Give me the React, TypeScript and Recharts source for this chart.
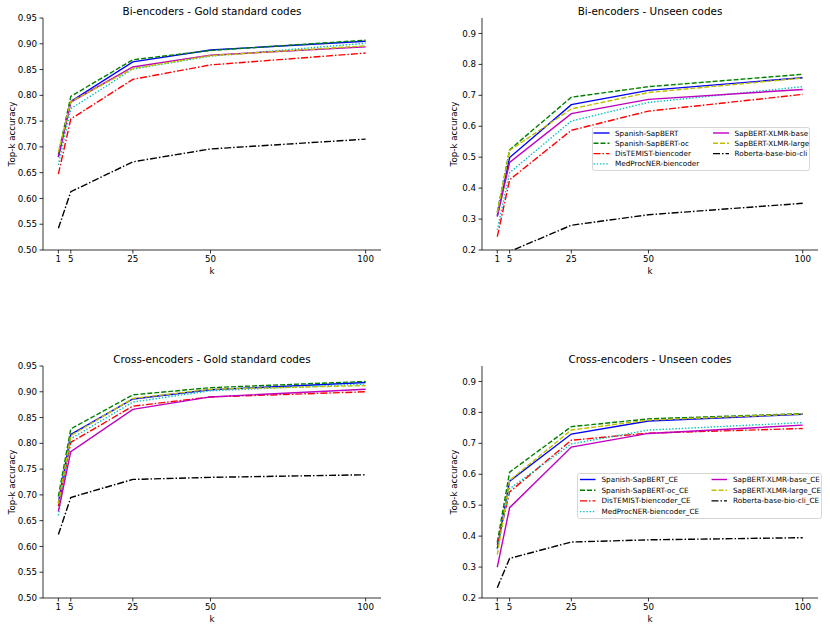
import React from 'react'
import { LineChart, Line, XAxis, YAxis, Label, Legend } from 'recharts'

// x positions (top-k)
const kValues = [1, 5, 25, 50, 100]
const xTicks = [1, 5, 25, 50, 100]
const yTicksGold = [0.5, 0.55, 0.6, 0.65, 0.7, 0.75, 0.8, 0.85, 0.9, 0.95]
const yTicksUnseen = [0.2, 0.3, 0.4, 0.5, 0.6, 0.7, 0.8, 0.9]

const modelNames = [
  'Spanish-SapBERT',
  'Spanish-SapBERT-oc',
  'DisTEMIST-biencoder',
  'MedProcNER-biencoder',
  'SapBERT-XLMR-base',
  'SapBERT-XLMR-large',
  'Roberta-base-bio-cli',
]
const modelNamesCE = [
  'Spanish-SapBERT_CE',
  'Spanish-SapBERT-oc_CE',
  'DisTEMIST-biencoder_CE',
  'MedProcNER-biencoder_CE',
  'SapBERT-XLMR-base_CE',
  'SapBERT-XLMR-large_CE',
  'Roberta-base-bio-cli_CE',
]

// Bi-encoders - Gold standard codes
const biGoldSpanish = [0.68, 0.788, 0.865, 0.888, 0.905]
const biGoldSpanishOc = [0.685, 0.798, 0.869, 0.887, 0.907]
const biGoldDistemist = [0.647, 0.754, 0.831, 0.859, 0.882]
const biGoldMedProcNER = [0.665, 0.774, 0.851, 0.876, 0.901]
const biGoldXlmrBase = [0.681, 0.787, 0.855, 0.878, 0.894]
const biGoldXlmrLarge = [0.69, 0.788, 0.852, 0.877, 0.896]
const biGoldRoberta = [0.542, 0.613, 0.671, 0.696, 0.715]

// Bi-encoders - Unseen codes
const biUnseenSpanish = [0.31, 0.499, 0.67, 0.716, 0.757]
const biUnseenSpanishOc = [0.322, 0.524, 0.694, 0.728, 0.768]
const biUnseenDistemist = [0.243, 0.427, 0.587, 0.649, 0.703]
const biUnseenMedProcNER = [0.265, 0.45, 0.617, 0.677, 0.728]
const biUnseenXlmrBase = [0.308, 0.483, 0.641, 0.687, 0.719]
const biUnseenXlmrLarge = [0.32, 0.522, 0.656, 0.709, 0.756]
const biUnseenRoberta = [0.1, 0.195, 0.28, 0.314, 0.351]

// Cross-encoders - Gold standard codes
const ceGoldSpanish = [0.685, 0.817, 0.886, 0.904, 0.918]
const ceGoldSpanishOc = [0.697, 0.828, 0.894, 0.908, 0.92]
const ceGoldDistemist = [0.678, 0.802, 0.872, 0.89, 0.9]
const ceGoldMedProcNER = [0.66, 0.809, 0.88, 0.902, 0.915]
const ceGoldXlmrBase = [0.668, 0.784, 0.866, 0.89, 0.905]
const ceGoldXlmrLarge = [0.683, 0.815, 0.887, 0.905, 0.912]
const ceGoldRoberta = [0.623, 0.695, 0.73, 0.734, 0.739]

// Cross-encoders - Unseen codes
const ceUnseenSpanish = [0.36, 0.578, 0.73, 0.772, 0.794]
const ceUnseenSpanishOc = [0.38, 0.607, 0.754, 0.779, 0.796]
const ceUnseenDistemist = [0.372, 0.543, 0.71, 0.733, 0.748]
const ceUnseenMedProcNER = [0.358, 0.553, 0.698, 0.743, 0.767]
const ceUnseenXlmrBase = [0.3, 0.492, 0.688, 0.732, 0.759]
const ceUnseenXlmrLarge = [0.34, 0.58, 0.743, 0.775, 0.795]
const ceUnseenRoberta = [0.233, 0.328, 0.381, 0.388, 0.395]

const FONT = "'DejaVu Sans', sans-serif"

// matplotlib-ish b, g--, r-., c:, m, y--, k-.
const lineStyles = [
  { color: '#0000ff', dash: undefined },
  { color: '#008000', dash: '5 2' },
  { color: '#ff0000', dash: '7 2 1.5 2' },
  { color: '#00bfbf', dash: '1.4 1.8' },
  { color: '#bf00bf', dash: undefined },
  { color: '#bfbf00', dash: '5 2' },
  { color: '#000000', dash: '7 2 1.5 2' },
]

const buildData = (series: number[][]) =>
  kValues.map((k, i) => {
    const row: { [key: string]: number } = { k }
    series.forEach((s, j) => {
      row['s' + j] = s[i]
    })
    return row
  })

// plot box inside every chart
const CH_H = 300
const PLOT_TOP = 18
const PLOT_LEFT = 43
const PLOT_BOTTOM = 250

interface LegendBox {
  left: number
  top: number
  width: number
  height: number
  row0: number
  rowH: number
  col1: number
  col2: number
  handle: number
  pad: number
}

const LegendContent = ({ names, box }: { names: string[]; box: LegendBox }) => (
  <svg width={box.width} height={box.height} style={{ display: 'block', overflow: 'visible' }}>
    <rect
      x={0.5}
      y={0.5}
      width={box.width - 1}
      height={box.height - 1}
      rx={2}
      fill="#ffffff"
      fillOpacity={0.8}
      stroke="#cccccc"
      strokeWidth={0.8}
    />
    {names.map((name, i) => {
      const col = i < 4 ? 0 : 1
      const row = i < 4 ? i : i - 4
      const x = col === 0 ? box.col1 : box.col2
      const y = box.row0 + row * box.rowH
      const st = lineStyles[i]
      return (
        <g key={name}>
          <line
            x1={x}
            x2={x + box.handle}
            y1={y}
            y2={y}
            stroke={st.color}
            strokeWidth={1.4}
            strokeDasharray={st.dash}
          />
          <text
            x={x + box.handle + box.pad}
            y={y}
            dominantBaseline="central"
            fontSize={7.25}
            fontFamily={FONT}
            fill="#000"
          >
            {name}
          </text>
        </g>
      )
    })}
  </svg>
)

interface PanelProps {
  left: number
  top: number
  width: number
  marginRight: number
  title: string
  series: number[][]
  names: string[]
  yTicks: number[]
  yDomain: [number, number]
  decimals: number
  yLabelX: number
  legend?: LegendBox
}

const Panel = ({
  left,
  top,
  width,
  marginRight,
  title,
  series,
  names,
  yTicks,
  yDomain,
  decimals,
  yLabelX,
  legend,
}: PanelProps) => {
  const data = buildData(series)
  const plotRight = width - marginRight
  const cx = (PLOT_LEFT + plotRight) / 2
  const cy = (PLOT_TOP + PLOT_BOTTOM) / 2
  const tickStyle = { fill: '#000', fontSize: 8.7, fontFamily: FONT }

  return (
    <div style={{ position: 'absolute', left, top, width, height: CH_H }}>
      <div
        style={{
          position: 'absolute',
          left: cx - 150,
          top: 4.5,
          width: 300,
          textAlign: 'center',
          fontFamily: FONT,
          fontSize: 10.4,
          lineHeight: '12px',
          color: '#000',
          whiteSpace: 'nowrap',
        }}
      >
        {title}
      </div>
      <LineChart
        width={width}
        height={CH_H}
        data={data}
        margin={{ top: PLOT_TOP, right: marginRight, bottom: 20, left: 0 }}
      >
        <XAxis
          dataKey="k"
          type="number"
          domain={[-3.95, 104.95]}
          ticks={xTicks}
          interval={0}
          allowDataOverflow
          height={30}
          tick={tickStyle}
          tickSize={3.5}
          tickMargin={2}
          axisLine={{ stroke: '#000', strokeWidth: 0.8 }}
          tickLine={{ stroke: '#000', strokeWidth: 0.8 }}
        >
          <Label
            content={() => (
              <text
                x={cx}
                y={270.5}
                textAnchor="middle"
                dominantBaseline="central"
                fontSize={8.7}
                fontFamily={FONT}
                fill="#000"
              >
                k
              </text>
            )}
          />
        </XAxis>
        <YAxis
          type="number"
          domain={yDomain}
          ticks={yTicks}
          interval={0}
          allowDataOverflow
          width={PLOT_LEFT}
          tick={tickStyle}
          tickSize={3.5}
          tickMargin={2.5}
          tickFormatter={(v: number) => v.toFixed(decimals)}
          axisLine={{ stroke: '#000', strokeWidth: 0.8 }}
          tickLine={{ stroke: '#000', strokeWidth: 0.8 }}
        >
          <Label
            content={() => (
              <text
                x={yLabelX}
                y={cy}
                transform={`rotate(-90 ${yLabelX} ${cy})`}
                textAnchor="middle"
                dominantBaseline="central"
                fontSize={8.7}
                fontFamily={FONT}
                fill="#000"
              >
                Top-k accuracy
              </text>
            )}
          />
        </YAxis>
        {series.map((_, j) => (
          <Line
            key={names[j]}
            type="linear"
            dataKey={'s' + j}
            name={names[j]}
            stroke={lineStyles[j].color}
            strokeDasharray={lineStyles[j].dash}
            strokeWidth={1.4}
            dot={false}
            activeDot={false}
            isAnimationActive={false}
          />
        ))}
        {legend && (
          <Legend
            layout="horizontal"
            verticalAlign="middle"
            align="center"
            wrapperStyle={{
              left: legend.left,
              top: legend.top,
              width: legend.width,
              height: legend.height,
            }}
            content={() => <LegendContent names={names} box={legend} />}
          />
        )}
      </LineChart>
    </div>
  )
}

const biGoldSeries = [
  biGoldSpanish,
  biGoldSpanishOc,
  biGoldDistemist,
  biGoldMedProcNER,
  biGoldXlmrBase,
  biGoldXlmrLarge,
  biGoldRoberta,
]
const biUnseenSeries = [
  biUnseenSpanish,
  biUnseenSpanishOc,
  biUnseenDistemist,
  biUnseenMedProcNER,
  biUnseenXlmrBase,
  biUnseenXlmrLarge,
  biUnseenRoberta,
]
const ceGoldSeries = [
  ceGoldSpanish,
  ceGoldSpanishOc,
  ceGoldDistemist,
  ceGoldMedProcNER,
  ceGoldXlmrBase,
  ceGoldXlmrLarge,
  ceGoldRoberta,
]
const ceUnseenSeries = [
  ceUnseenSpanish,
  ceUnseenSpanishOc,
  ceUnseenDistemist,
  ceUnseenMedProcNER,
  ceUnseenXlmrBase,
  ceUnseenXlmrLarge,
  ceUnseenRoberta,
]

const biLegend: LegendBox = {
  left: 153,
  top: 127,
  width: 218,
  height: 44,
  row0: 6,
  rowH: 10.3,
  col1: 1.5,
  col2: 121,
  handle: 16,
  pad: 5.5,
}
const ceLegend: LegendBox = {
  left: 138,
  top: 125,
  width: 245,
  height: 46,
  row0: 6.5,
  rowH: 10.7,
  col1: 3,
  col2: 134.5,
  handle: 15.5,
  pad: 6,
}

export default function App() {
  return (
    <div
      style={{
        position: 'absolute',
        left: 0,
        top: 0,
        width: 830,
        height: 630,
        background: '#fff',
        overflow: 'hidden',
      }}
    >
      <Panel
        left={0}
        top={0}
        width={415}
        marginRight={34}
        title="Bi-encoders - Gold standard codes"
        series={biGoldSeries}
        names={modelNames}
        yTicks={yTicksGold}
        yDomain={[0.5, 0.95]}
        decimals={2}
        yLabelX={11.5}
      />
      <Panel
        left={439}
        top={0}
        width={391}
        marginRight={12}
        title="Bi-encoders - Unseen codes"
        series={biUnseenSeries}
        names={modelNames}
        yTicks={yTicksUnseen}
        yDomain={[0.2, 0.95]}
        decimals={1}
        yLabelX={14.5}
        legend={biLegend}
      />
      <Panel
        left={0}
        top={348}
        width={415}
        marginRight={34}
        title="Cross-encoders - Gold standard codes"
        series={ceGoldSeries}
        names={modelNamesCE}
        yTicks={yTicksGold}
        yDomain={[0.5, 0.95]}
        decimals={2}
        yLabelX={11.5}
      />
      <Panel
        left={439}
        top={348}
        width={391}
        marginRight={12}
        title="Cross-encoders - Unseen codes"
        series={ceUnseenSeries}
        names={modelNamesCE}
        yTicks={yTicksUnseen}
        yDomain={[0.2, 0.95]}
        decimals={1}
        yLabelX={14.5}
        legend={ceLegend}
      />
    </div>
  )
}
